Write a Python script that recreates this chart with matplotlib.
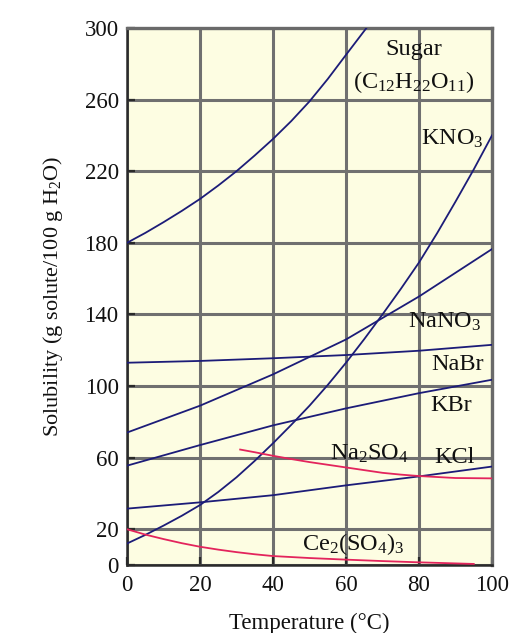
import matplotlib
matplotlib.use("Agg")
import matplotlib.pyplot as plt

plt.rcParams['font.family'] = ['Liberation Serif', 'DejaVu Serif']
plt.rcParams['mathtext.fontset'] = 'custom'
plt.rcParams['mathtext.rm'] = 'Liberation Serif'
plt.rcParams['mathtext.it'] = 'Liberation Serif:italic'
plt.rcParams['mathtext.bf'] = 'Liberation Serif:bold'

# ---- data ----
sugar_t = [0, 5, 10, 15, 20, 25, 30, 35, 40, 45, 50, 55, 60, 65.6]
sugar_s = [180, 185.5, 191.5, 197.8, 204.5, 212, 220, 228.8, 238, 248, 259, 271.5, 285, 300]

kno3_t = [0, 5, 10, 15, 20, 25, 30, 35, 40, 45, 50, 55, 60, 65, 70, 75, 80, 85, 90, 95, 100]
kno3_s = [12, 16.8, 22, 27.5, 33.5, 40.8, 49, 58.2, 68, 78.3, 89, 100.6, 113, 126.2,
          140, 154.2, 169, 185.5, 203, 221, 240]

nano3_t = [0, 20, 40, 60, 80, 100]
nano3_s = [74, 89, 106.5, 126, 150, 176.5]

nabr_t = [0, 20, 40, 60, 80, 100]
nabr_s = [113, 114, 115.5, 117.3, 119.7, 123]

kbr_t = [0, 20, 40, 60, 80, 100]
kbr_s = [55.5, 67, 78, 87.5, 96, 103.5]

kcl_t = [0, 20, 40, 60, 80, 100]
kcl_s = [31.5, 35, 39, 44.5, 49.5, 55]

na2so4_t = [31, 35, 40, 45, 50, 55, 60, 65, 70, 75, 80, 90, 100]
na2so4_s = [64.5, 63, 61, 59.2, 57.5, 56, 54.5, 53, 51.5, 50.5, 49.7, 48.6, 48.4]

ce_t = [0, 5, 10, 15, 20, 25, 30, 35, 40, 50, 60, 70, 80, 95]
ce_s = [20, 17, 14.5, 12.2, 10.2, 8.6, 7.2, 6, 5, 3.9, 3, 2.2, 1.5, 0.6]

x_ticks = [0, 20, 40, 60, 80, 100]
y_ticks = [0, 20, 60, 100, 140, 180, 220, 260, 300]

labels = [
    ("Sugar", 78.6, 288),
    (r"(C$_{12}$H$_{22}$O$_{11}$)", 78.5, 270),
    (r"KNO$_3$", 89, 238),
    (r"NaNO$_3$", 87, 136),
    ("NaBr", 90.5, 112),
    ("KBr", 88.8, 89),
    (r"Na$_2$SO$_4$", 66.4, 62),
    ("KCl", 89.6, 60),
    (r"Ce$_2$(SO$_4$)$_3$", 62, 12),
]

blue = '#1c1c78'
red = '#e3245c'

fig = plt.figure(figsize=(5.19, 6.33), dpi=100)
ax = fig.add_axes([0.2447, 0.1074, 0.948 - 0.2447, 0.9558 - 0.1074])
ax.set_facecolor('#FDFDE2')

ax.set_xlim(0, 100)
ax.set_ylim(0, 300)
ax.set_xticks(x_ticks)
ax.set_yticks(y_ticks)
ax.grid(True, color='#707070', linewidth=2.2, zorder=1)
ax.set_axisbelow(True)

for t, s in [(sugar_t, sugar_s), (kno3_t, kno3_s), (nano3_t, nano3_s),
             (nabr_t, nabr_s), (kbr_t, kbr_s), (kcl_t, kcl_s)]:
    ax.plot(t, s, color=blue, linewidth=1.3, zorder=3, clip_on=True)
for t, s in [(na2so4_t, na2so4_s), (ce_t, ce_s)]:
    ax.plot(t, s, color=red, linewidth=1.3, zorder=3)

for txt, x, y in labels:
    ax.text(x, y, txt, ha='center', va='center', fontsize=17.5, color='#111111', zorder=4)

for side in ['top', 'right']:
    ax.spines[side].set_color('#6a6a6a')
    ax.spines[side].set_linewidth(2.4)
for side in ['left', 'bottom']:
    ax.spines[side].set_color('#2a2a2a')
    ax.spines[side].set_linewidth(1.8)

ax.tick_params(axis='both', direction='in', length=6, width=1.6, color='#2a2a2a',
               labelsize=16.5, labelcolor='#111111')
ax.tick_params(axis='x', pad=7)
ax.tick_params(axis='y', pad=6)

ax.set_xlabel("Temperature (°C)", fontsize=16.5, color='#111111', labelpad=12)
ax.set_ylabel(r"Solubility (g solute/100 g H$_2$O)", fontsize=16, color='#111111', labelpad=14)

fig.savefig("out.png", dpi=100, facecolor='white')
